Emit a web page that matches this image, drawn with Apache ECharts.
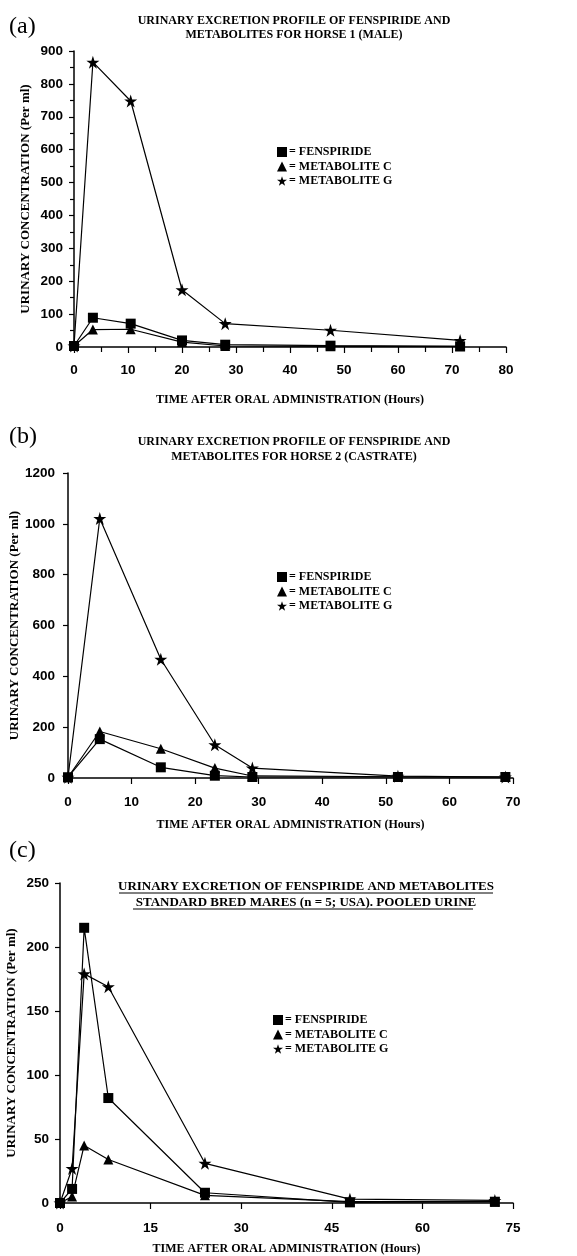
<!DOCTYPE html>
<html><head><meta charset="utf-8">
<script src="https://cdn.jsdelivr.net/npm/echarts@6/dist/echarts.min.js"></script>
<style>html,body{margin:0;padding:0;background:#fff}#c{width:577px;height:1256px}</style>
</head><body><div id="c"></div>
<script>
// ---- data ----
const seriesNames = ['FENSPIRIDE', 'METABOLITE C', 'METABOLITE G'];
const xA = [0, 3.5, 10.5, 20, 28, 47.5, 71.5];
const fenA = [3, 89, 71, 20, 7, 4, 2];
const metCA = [3, 53, 54, 15, 3, 2, 2];
const metGA = [3, 866, 748, 174, 71, 51, 20];

const xB = [0, 5, 14.6, 23.1, 29, 51.9, 68.8];
const fenB = [3, 153, 42, 9, 4, 4, 4];
const metCB = [3, 183, 115, 39, 8, 5, 4];
const metGB = [3, 1021, 467, 131, 39, 7, 4];

const xC = [0, 2, 4, 8, 24, 48, 72];
const fenC = [0, 11, 215, 82, 8, 0.5, 1];
const metCC = [0, 5, 45, 34, 6, 1, 1];
const metGC = [0, 27, 179, 169, 31, 3, 2];

const titleA = 'URINARY EXCRETION PROFILE OF FENSPIRIDE AND\nMETABOLITES FOR HORSE 1 (MALE)';
const titleB = 'URINARY EXCRETION PROFILE OF FENSPIRIDE AND\nMETABOLITES FOR HORSE 2 (CASTRATE)';
const titleC = 'URINARY EXCRETION OF FENSPIRIDE AND METABOLITES\nSTANDARD BRED MARES (n = 5; USA). POOLED URINE';
const yName = 'URINARY CONCENTRATION (Per ml)';
const xName = 'TIME AFTER ORAL ADMINISTRATION (Hours)';

// ---- build ----
const STAR = 'path://M50,0 L61.2,34.5 L97.6,34.5 L68.2,55.9 L79.4,90.5 L50,69.1 L20.6,90.5 L31.8,55.9 L2.4,34.5 L38.8,34.5 Z';
const symbols = ['rect', 'triangle', STAR];
const symSizes = [10, 10, 13];
const SERIF = '"Liberation Serif","Times New Roman",serif';
const SANS = '"Liberation Sans",Arial,sans-serif';

function zip(x, y) { return x.map((v, i) => [v, y[i]]); }

const grids = [
  {left: 74, right: 71, top: 51, height: 296},
  {left: 68, right: 64, top: 473, height: 305},
  {left: 60, right: 64, top: 883, height: 320}
].map(g => Object.assign(g, {containLabel: false, outerBoundsMode: 'none'}));
const xCfg = [
  {max: 80, interval: 10, minor: true, nameGap: 47, margin: 16},
  {max: 70, interval: 10, minor: false, nameGap: 41, margin: 17},
  {max: 75, interval: 15, minor: false, nameGap: 40, margin: 18}
];
const yCfg = [
  {max: 900, interval: 100, minor: true, nameGap: 42, margin: 11},
  {max: 1200, interval: 200, minor: false, nameGap: 47, margin: 13},
  {max: 250, interval: 50, minor: false, nameGap: 42, margin: 11}
];
const dataSets = [
  [zip(xA, fenA), zip(xA, metCA), zip(xA, metGA)],
  [zip(xB, fenB), zip(xB, metCB), zip(xB, metGB)],
  [zip(xC, fenC), zip(xC, metCC), zip(xC, metGC)]
];

const xAxis = xCfg.map((c, i) => ({
  type: 'value', gridIndex: i, min: 0, max: c.max, interval: c.interval,
  name: xName, nameLocation: 'middle', nameGap: c.nameGap, nameMoveOverlap: false,
  nameTextStyle: {fontFamily: SERIF, fontWeight: 'bold', fontSize: 12, color: '#000'},
  axisLine: {show: true, lineStyle: {color: '#000', width: 1.5}},
  axisTick: {show: true, length: 6, lineStyle: {color: '#000', width: 1.2}},
  minorTick: {show: c.minor, splitNumber: 2, length: 5, lineStyle: {color: '#000', width: 1.2}},
  splitLine: {show: false},
  axisLabel: {fontFamily: SANS, fontWeight: 'bold', fontSize: 13.5, color: '#000', margin: c.margin,
    formatter: v => String(v)}
}));
const yAxis = yCfg.map((c, i) => ({
  type: 'value', gridIndex: i, min: 0, max: c.max, interval: c.interval,
  name: yName, nameLocation: 'middle', nameGap: c.nameGap, nameRotate: 90, nameMoveOverlap: false,
  nameTextStyle: {fontFamily: SERIF, fontWeight: 'bold', fontSize: 13, color: '#000'},
  axisLine: {show: true, lineStyle: {color: '#000', width: 1.5}},
  axisTick: {show: true, length: 5, lineStyle: {color: '#000', width: 1.2}},
  minorTick: {show: c.minor, splitNumber: 2, length: 4, lineStyle: {color: '#000', width: 1.2}},
  splitLine: {show: false},
  axisLabel: {fontFamily: SANS, fontWeight: 'bold', fontSize: 13.5, color: '#000', margin: c.margin,
    formatter: v => String(v)}
}));

const series = [];
dataSets.forEach((set, g) => {
  set.forEach((d, s) => {
    series.push({
      type: 'line', name: seriesNames[s], xAxisIndex: g, yAxisIndex: g, data: d,
      symbol: symbols[s], symbolSize: symSizes[s], showAllSymbol: true,
      lineStyle: {color: '#000', width: 1.2}, itemStyle: {color: '#000'},
      emphasis: {disabled: true}, animation: false, z: 3 + (2 - s)
    });
  });
});

const legendPos = [{left: 277, top: 146}, {left: 277, top: 571}, {left: 273, top: 1014}];
const legend = legendPos.map(p => ({
  left: p.left, top: p.top, orient: 'vertical', itemGap: 2.5, itemWidth: 10, itemHeight: 10,
  padding: 0, selectedMode: false,
  data: seriesNames.map((n, i) => ({name: n, icon: symbols[i]})),
  formatter: n => '= ' + n,
  itemStyle: {color: '#000'},
  textStyle: {fontFamily: SERIF, fontWeight: 'bold', fontSize: 12, color: '#000', padding: [0, 0, 0, -3]}
}));

const titles = [
  {text: titleA, left: 294, top: 14, fs: 12, lh: 14},
  {text: titleB, left: 294, top: 434, fs: 12, lh: 15},
  {text: titleC, left: 306, top: 879, fs: 13, lh: 16}
].map(t => ({
  text: t.text, left: t.left, top: t.top, textAlign: 'center', padding: 0,
  textStyle: {fontFamily: SERIF, fontWeight: 'bold', fontSize: t.fs, lineHeight: t.lh, color: '#000'}
}));
[['(a)', 10], ['(b)', 420], ['(c)', 834]].forEach(([t, y]) => {
  titles.push({text: t, left: 4, top: y,
    textStyle: {fontFamily: SERIF, fontWeight: 'normal', fontSize: 24, color: '#000'}});
});

const chart = echarts.init(document.getElementById('c'), null, {renderer: 'canvas'});
chart.setOption({
  animation: false,
  backgroundColor: '#fff',
  title: titles,
  grid: grids,
  xAxis: xAxis,
  yAxis: yAxis,
  legend: legend,
  series: series,
  graphic: [
    {type: 'line', shape: {x1: 119, y1: 893, x2: 493, y2: 893}, style: {stroke: '#000', lineWidth: 1}},
    {type: 'line', shape: {x1: 133, y1: 909, x2: 473, y2: 909}, style: {stroke: '#000', lineWidth: 1}}
  ]
});
</script></body></html>
